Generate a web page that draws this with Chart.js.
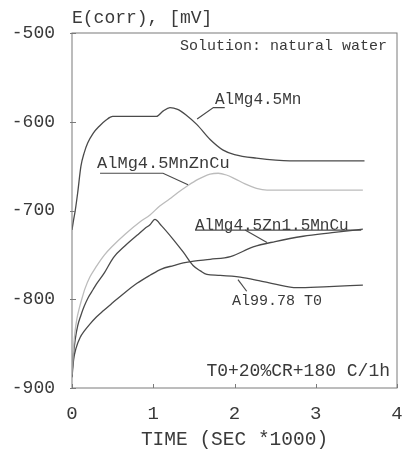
<!DOCTYPE html>
<html>
<head>
<meta charset="utf-8">
<script src="https://cdn.jsdelivr.net/npm/chart.js@4.4.0/dist/chart.umd.min.js"></script>
<style>
  html, body { margin: 0; padding: 0; background: #fff; }
</style>
</head>
<body>
<canvas id="chart" width="402" height="450"></canvas>
<script>
// time [s], E(corr) [mV]
const timeMn = [0, 15, 40, 70, 110, 150, 193, 260, 336, 420, 500, 800, 1040, 1120, 1206, 1300, 1400, 1535, 1700, 1860, 2000, 2270, 2680, 3000, 3600];
const potMn  = [-722, -713, -700, -680, -650, -635, -624, -613, -605, -598, -594, -594, -594, -588, -584, -586, -592, -603, -620, -632, -637, -641, -644, -644, -644];

const timeZnCu = [0, 15, 35, 60, 90, 120, 160, 220, 300, 400, 500, 650, 835, 960, 1080, 1200, 1300, 1410, 1550, 1700, 1800, 1900, 2000, 2130, 2270, 2400, 2800, 3200, 3580];
const potZnCu  = [-885, -860, -838, -822, -810, -800, -788, -775, -763, -750, -740, -727, -713, -705, -695, -687, -680, -673, -665, -659, -658, -660, -664, -670, -675, -677, -677, -677, -677];

const timeZn15 = [0, 20, 50, 100, 150, 220, 300, 385, 500, 630, 800, 960, 1100, 1250, 1370, 1500, 1700, 1950, 2230, 2500, 2845, 3200, 3580];
const potZn15  = [-888, -868, -855, -843, -836, -828, -820, -813, -804, -794, -782, -773, -766, -762, -759, -757, -755, -752, -741, -735, -729, -725, -721];

const timeT0 = [0, 15, 40, 70, 110, 150, 200, 260, 300, 400, 510, 650, 800, 900, 960, 1020, 1100, 1250, 1370, 1490, 1580, 1660, 1800, 2070, 2300, 2500, 2765, 3100, 3580];
const potT0  = [-885, -865, -845, -830, -818, -808, -798, -789, -783, -770, -753, -740, -728, -720, -716, -710, -717, -733, -747, -762, -768, -772, -773, -775, -779, -783, -787, -786, -784];

const xTickLabels = ['0', '1', '2', '3', '4'];

const darkLine = '#4a4a4a';
const lightLine = '#bcbcbc';
const frameColor = '#7a7a7a';
const textColor = '#3a3a3a';
const mono = '"Liberation Mono", "DejaVu Sans Mono", monospace';

// labels with leader lines, placed in data units
const notes = [
  { text: 'AlMg4.5Mn', t: 1760, e: -575, size: 16, lines: [[[1540, -597], [1740, -584], [1880, -584]]] },
  { text: 'AlMg4.5MnZnCu', t: 308, e: -647, size: 17, lines: [[[345, -658], [1120, -658], [1428, -671]]] },
  { text: 'AlMg4.5Zn1.5MnCu', t: 1514, e: -717, size: 16, lines: [[[1514, -722], [3560, -722]], [[2130, -722], [2400, -736]]] },
  { text: 'Al99.78 T0', t: 1970, e: -802, size: 15, lines: [[[2043, -778], [2150, -791]]] },
  { text: 'Solution: natural water', t: 3877, e: -515, size: 15, align: 'right', lines: [] },
  { text: 'T0+20%CR+180 C/1h', t: 3914, e: -881, size: 18, align: 'right', lines: [] }
];

function toPoints(ts, es) {
  return ts.map((t, i) => ({ x: t, y: es[i] }));
}

function makeSet(label, ts, es, color) {
  return {
    label: label,
    data: toPoints(ts, es),
    borderColor: color,
    borderWidth: 1.3,
    pointRadius: 0,
    cubicInterpolationMode: 'monotone',
    fill: false
  };
}

const decorations = {
  id: 'decorations',
  afterDraw(chart) {
    const { ctx, chartArea: a, scales: { x, y } } = chart;
    ctx.save();
    ctx.strokeStyle = frameColor;
    ctx.lineWidth = 1;
    ctx.strokeRect(a.left, a.top, a.right - a.left, a.bottom - a.top);
    x.ticks.forEach(tk => {
      const px = Math.round(x.getPixelForValue(tk.value)) + 0.5;
      ctx.beginPath(); ctx.moveTo(px, a.bottom); ctx.lineTo(px, a.bottom - 4); ctx.stroke();
    });
    y.ticks.forEach(tk => {
      const py = Math.round(y.getPixelForValue(tk.value)) + 0.5;
      ctx.beginPath(); ctx.moveTo(a.left - 2, py); ctx.lineTo(a.left + 4, py); ctx.stroke();
    });

    ctx.fillStyle = textColor;
    ctx.textBaseline = 'middle';
    ctx.font = '18px ' + mono;
    ctx.textAlign = 'left';
    ctx.fillText('E(corr), [mV]', a.left, a.top - 15);

    notes.forEach(n => {
      ctx.font = n.size + 'px ' + mono;
      ctx.textAlign = n.align || 'left';
      ctx.fillText(n.text, x.getPixelForValue(n.t), y.getPixelForValue(n.e));
      ctx.strokeStyle = darkLine;
      ctx.lineWidth = 1.2;
      n.lines.forEach(pl => {
        ctx.beginPath();
        pl.forEach((p, i) => {
          const px = x.getPixelForValue(p[0]);
          const py = y.getPixelForValue(p[1]);
          if (i === 0) ctx.moveTo(px, py); else ctx.lineTo(px, py);
        });
        ctx.stroke();
      });
    });
    ctx.restore();
  }
};

new Chart(document.getElementById('chart'), {
  type: 'line',
  data: {
    datasets: [
      makeSet('AlMg4.5Mn', timeMn, potMn, darkLine),
      makeSet('AlMg4.5MnZnCu', timeZnCu, potZnCu, lightLine),
      makeSet('AlMg4.5Zn1.5MnCu', timeZn15, potZn15, darkLine),
      makeSet('Al99.78 T0', timeT0, potT0, darkLine)
    ]
  },
  options: {
    responsive: false,
    animation: false,
    layout: { padding: { top: 33, right: 5, left: 0, bottom: 0 } },
    plugins: { legend: { display: false }, tooltip: { enabled: false } },
    scales: {
      x: {
        type: 'linear',
        min: 0,
        max: 4000,
        afterFit: s => { s.height = 62; s.paddingLeft = 0; s.paddingRight = 0; },
        border: { display: false },
        grid: { display: false },
        ticks: {
          stepSize: 1000,
          padding: 7,
          maxRotation: 0,
          color: textColor,
          font: { family: mono, size: 19 },
          callback: (v, i) => xTickLabels[i]
        },
        title: {
          display: true,
          text: 'TIME (SEC *1000)',
          color: textColor,
          font: { family: mono, size: 19.5 },
          padding: { top: 0, bottom: -2 }
        }
      },
      y: {
        min: -900,
        max: -500,
        afterFit: s => { s.width = 72; },
        border: { display: false },
        grid: { display: false },
        ticks: {
          stepSize: 100,
          padding: 9,
          color: textColor,
          font: { family: mono, size: 18 }
        }
      }
    }
  },
  plugins: [decorations]
});
</script>
</body>
</html>
